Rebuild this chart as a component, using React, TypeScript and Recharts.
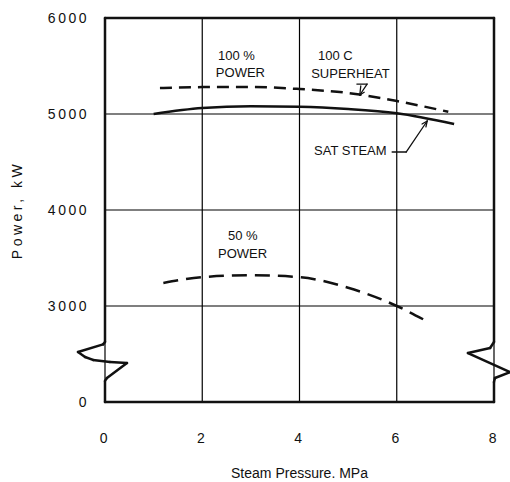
import { CartesianGrid, Line, LineChart, ReferenceDot, ReferenceLine, XAxis, YAxis } from "recharts";

// steam pressure (MPa) vs power (kW); the y axis is broken: "0" sits where 2000 would be
const pressureSuperheat = [1.13, 2, 3, 4, 5, 6, 7.06];
const powerSuperheat = [5271, 5280, 5281, 5260, 5219, 5135, 5023];

const pressureSatSteam = [1.0, 2, 3, 4, 5, 6, 7.18];
const powerSatSteam = [5000, 5062, 5080, 5075, 5052, 5008, 4896];

const pressureHalf = [1.2, 2, 3, 4, 5, 6, 6.55];
const powerHalf = [3240, 3300, 3320, 3300, 3190, 3000, 2860];

const xTicks = [0, 2, 4, 6, 8];
const yTicks = [2000, 3000, 4000, 5000, 6000];
const yTickLabels = ["0", "3000", "4000", "5000", "6000"];

const notes = [
  { x: 2.325, y: 5615, text: "100 %" },
  { x: 2.28, y: 5437, text: "POWER" },
  { x: 4.38, y: 5615, text: "100 C" },
  { x: 4.24, y: 5427, text: "SUPERHEAT" },
  { x: 4.3, y: 4625, text: "SAT STEAM" },
  { x: 2.53, y: 3740, text: "50 %" },
  { x: 2.325, y: 3552, text: "POWER" },
];

// frame with the axis-break squiggles, in data units
const frameTop = [[0, 6000], [8, 6000]];
const frameBottom = [[0, 2000], [8, 2000]];
const frameLeft = [
  [0, 6000], [0, 2625], [-0.04, 2600], [-0.555, 2521], [-0.41, 2469], [-0.247, 2438],
  [0.103, 2417], [0.452, 2406], [0.04, 2250], [0, 2220], [0, 2000],
];
const frameRight = [
  [8, 6000], [8, 2625], [7.92, 2562], [7.465, 2510], [8.33, 2312], [8.02, 2250], [8, 2208], [8, 2000],
];

// leaders for the annotations
const satSteamLeader = [[5.905, 4604], [6.193, 4604], [6.626, 4927]];
const satSteamArrow = [[6.6, 4865], [6.626, 4927], [6.52, 4896]];
const superheatLeader = [[5.18, 5312], [5.39, 5312], [5.24, 5198]];
const superheatArrow = [[5.33, 5226], [5.24, 5198], [5.26, 5292]];

const toPoints = (xs: number[], ys: number[]) => xs.map((x, i) => ({ x, y: ys[i] }));

const font = "'Liberation Sans', Arial, Helvetica, sans-serif";

function chain(points: number[][], width: number, key: string) {
  const out = [];
  for (let i = 0; i < points.length - 1; i++) {
    out.push(
      <ReferenceLine
        key={`${key}-${i}`}
        segment={[
          { x: points[i][0], y: points[i][1] },
          { x: points[i + 1][0], y: points[i + 1][1] },
        ]}
        stroke="#111"
        strokeWidth={width}
        strokeLinecap="round"
        ifOverflow="visible"
      />
    );
  }
  return out;
}

export default function App() {
  return (
    <div style={{ position: "absolute", left: 0, top: 0, background: "#fff" }}>
      <LineChart width={510} height={482} margin={{ top: 18, right: 16, bottom: 0, left: 0 }}>
        <CartesianGrid stroke="#000" strokeWidth={1.2} />
        <XAxis
          type="number"
          dataKey="x"
          domain={[0, 8]}
          ticks={xTicks}
          height={80}
          axisLine={false}
          tickLine={false}
          tickSize={0}
          tickMargin={31}
          tick={{ fill: "#111", fontSize: 14, fontFamily: font, letterSpacing: 2.5 }}
          label={{
            value: "Steam Pressure. MPa",
            position: "insideBottom",
            offset: 4,
            fill: "#111",
            fontSize: 14,
            fontFamily: font,
          }}
        />
        <YAxis
          type="number"
          dataKey="y"
          domain={[2000, 6000]}
          ticks={yTicks}
          width={105}
          axisLine={false}
          tickLine={false}
          tickSize={0}
          tickMargin={16}
          tickFormatter={(v: number) => yTickLabels[yTicks.indexOf(v)]}
          tick={{ fill: "#111", fontSize: 14, fontFamily: font, letterSpacing: 2.5 }}
          label={{
            value: "Power, kW",
            angle: -90,
            position: "insideLeft",
            offset: 17,
            fill: "#111",
            fontSize: 14,
            fontFamily: font,
            letterSpacing: 3.5,
            style: { textAnchor: "middle" },
          }}
        />
        <Line
          data={toPoints(pressureSuperheat, powerSuperheat)}
          dataKey="y"
          type="monotone"
          stroke="#111"
          strokeWidth={2.5}
          strokeDasharray="12 7"
          dot={false}
          activeDot={false}
          isAnimationActive={false}
        />
        <Line
          data={toPoints(pressureSatSteam, powerSatSteam)}
          dataKey="y"
          type="monotone"
          stroke="#111"
          strokeWidth={2.5}
          dot={false}
          activeDot={false}
          isAnimationActive={false}
        />
        <Line
          data={toPoints(pressureHalf, powerHalf)}
          dataKey="y"
          type="monotone"
          stroke="#111"
          strokeWidth={2.5}
          strokeDasharray="15 8"
          dot={false}
          activeDot={false}
          isAnimationActive={false}
        />
        {chain(frameTop, 2.5, "ft")}
        {chain(frameBottom, 2.5, "fb")}
        {chain(frameLeft, 2.5, "fl")}
        {chain(frameRight, 2.5, "fr")}
        {chain(satSteamLeader, 1.3, "sl")}
        {chain(satSteamArrow, 1.3, "sa")}
        {chain(superheatLeader, 1.3, "hl")}
        {chain(superheatArrow, 1.3, "ha")}
        {notes.map((n, i) => (
          <ReferenceDot
            key={`note-${i}`}
            x={n.x}
            y={n.y}
            r={0}
            fill="none"
            stroke="none"
            label={{ value: n.text, position: "right", offset: 0, fill: "#111", fontSize: 13, fontFamily: font }}
          />
        ))}
      </LineChart>
    </div>
  );
}
